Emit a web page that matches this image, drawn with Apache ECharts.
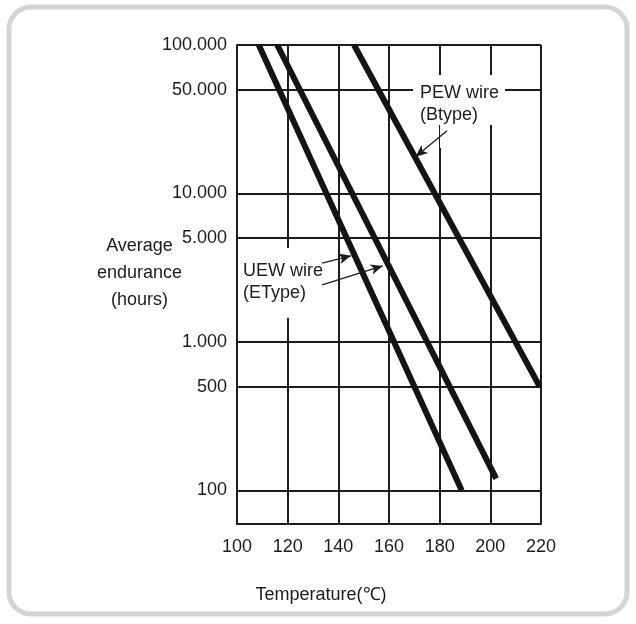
<!DOCTYPE html>
<html><head><meta charset="utf-8">
<script src="https://cdn.jsdelivr.net/npm/echarts@6/dist/echarts.min.js"></script>
<style>html,body{margin:0;padding:0;background:#fff}#c{width:636px;height:624px}</style>
</head><body><div id="c"></div>
<script>
// Axis ticks
const xTicks = [100, 120, 140, 160, 180, 200, 220];
const yTicks = [100, 500, 1000, 5000, 10000, 50000, 100000];
// Lines: [temperature, hours]
const uewLine1 = [[108.6, 100000], [188.7, 100]];
const uewLine2 = [[115.9, 100000], [202.3, 120]];
const pewLine = [[146.2, 100000], [219.5, 500]];
// Annotation arrows: [from, to]
const pewArrow = [[182.9, 26500], [170.5, 17700]];
const uewArrow1 = [[133.6, 3400], [145.0, 3800]];
const uewArrow2 = [[133.6, 2425], [157.5, 3250]];
const labels = {
  yName: 'Average\nendurance\n(hours)',
  xName: 'Temperature(\u2103)',
  pew: 'PEW wire\n(Btype)',
  uew: 'UEW wire\n(EType)'
};

const FONT = "'Liberation Sans', Arial, Helvetica, sans-serif";
const INK = '#1c1c1c';
const fmtY = v => {
  const s = String(Math.round(v));
  return s.replace(/\B(?=(\d{3})+(?!\d))/g, '.');
};
const arrow = a => [{coord: a[0]}, {coord: a[1]}];

const chart = echarts.init(document.getElementById('c'), null, {renderer: 'canvas'});
const lineSeries = (name, data) => ({
  name, type: 'line', data, symbol: 'none', z: 3,
  lineStyle: {color: '#141414', width: 6, cap: 'butt'}
});
chart.setOption({
  animation: false,
  backgroundColor: '#fff',
  grid: {left: 237, right: 95, top: 45, bottom: 100, containLabel: false},
  xAxis: {
    type: 'value', min: xTicks[0], max: xTicks[xTicks.length - 1], interval: 20,
    axisLine: {show: true, lineStyle: {color: INK, width: 2}},
    axisTick: {show: false},
    axisLabel: {color: INK, fontSize: 18, fontFamily: FONT, margin: 14},
    splitLine: {show: true, lineStyle: {color: INK, width: 2}}
  },
  yAxis: {
    type: 'log', logBase: 10, min: 59.4, max: 100000,
    axisLine: {show: true, lineStyle: {color: INK, width: 2}},
    axisTick: {show: false, customValues: yTicks},
    axisLabel: {color: INK, fontSize: 18, fontFamily: FONT, margin: 10,
      customValues: yTicks, formatter: v => fmtY(v)},
    splitLine: {show: true, lineStyle: {color: INK, width: 2}}
  },
  graphic: [
    {type: 'rect', z: 0, shape: {x: 9, y: 7, width: 618, height: 607, r: 22},
      style: {fill: 'none', stroke: '#d4d4d4', lineWidth: 5}},
    {type: 'rect', z: 1, shape: {x: 413, y: 75, width: 92, height: 50}, style: {fill: '#fff'}},
    {type: 'rect', z: 1, shape: {x: 440, y: 120, width: 16, height: 28}, style: {fill: '#fff'}},
    {type: 'rect', z: 1, shape: {x: 240, y: 248, width: 92, height: 70}, style: {fill: '#fff'}},
    {type: 'text', z: 5, left: 420, top: 82,
      style: {text: labels.pew, font: '18px ' + FONT, fill: INK, lineHeight: 22}},
    {type: 'text', z: 5, left: 243, top: 260,
      style: {text: labels.uew, font: '18px ' + FONT, fill: INK, lineHeight: 22}},
    {type: 'text', z: 5, x: 139.5, y: 273,
      style: {text: labels.yName, font: '18px ' + FONT, fill: INK, lineHeight: 27,
        align: 'center', verticalAlign: 'middle'}},
    {type: 'text', z: 5, x: 321, y: 595,
      style: {text: labels.xName, font: '18px ' + FONT, fill: INK, align: 'center', verticalAlign: 'middle'}}
  ],
  series: [
    lineSeries('UEW wire 1', uewLine1),
    lineSeries('UEW wire 2', uewLine2),
    Object.assign(lineSeries('PEW wire', pewLine), {
      markLine: {
        silent: true, symbol: ['none', 'arrow'], symbolSize: [8, 12],
        lineStyle: {color: INK, width: 1.3, type: 'solid'},
        label: {show: false},
        data: [arrow(pewArrow), arrow(uewArrow1), arrow(uewArrow2)]
      }
    })
  ]
});
</script></body></html>
